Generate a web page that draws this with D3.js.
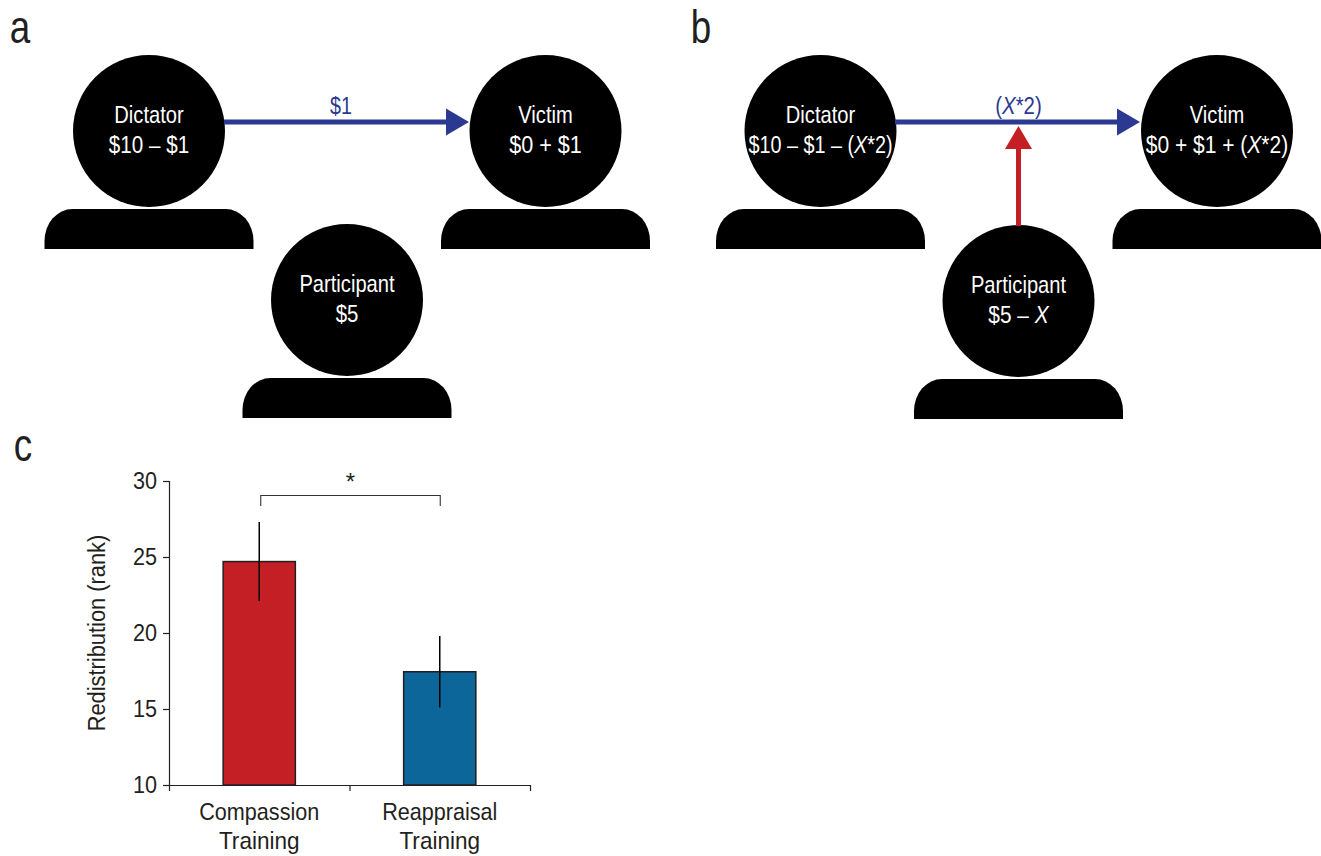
<!DOCTYPE html>
<html>
<head>
<meta charset="utf-8">
<script src="https://cdn.jsdelivr.net/npm/d3@7"></script>
<style>
  body { margin: 0; background: #fff; }
  text { font-family: "Liberation Sans", sans-serif; }
</style>
</head>
<body>
<div id="chart"></div>
<script>
// bar values
const categories = ["Compassion Training", "Reappraisal Training"];
const means = [24.7, 17.45];
const errLow = [22.1, 15.1];
const errHigh = [27.3, 19.8];
const yTicks = [10, 15, 20, 25, 30];
const barColors = ["#c51f26", "#0d6699"];

// text of the two game diagrams, X marks the italic part
const people = ["Dictator", "Victim", "Participant"];
const moneyA = ["$10 – $1", "$0 + $1", "$5"];
const moneyB = ["$10 – $1 – (X*2)", "$0 + $1 + (X*2)", "$5 – X"];

const blue = "#2b3990";
const red = "#c51f26";
const ink = "#231f20";

const svg = d3.select("#chart").append("svg")
    .attr("width", 1321)
    .attr("height", 856);

// no condensed face installed, so labels get squeezed horizontally
function squeezed(g, px, py, k, size, color) {
    return g.append("text")
        .attr("transform", `translate(${px},${py}) scale(${k},1)`)
        .attr("text-anchor", "middle")
        .attr("font-size", size)
        .attr("fill", color);
}

// panel letters
[["a", 20, 43], ["b", 701, 43], ["c", 23, 461]].forEach(function(d) {
    squeezed(svg, d[1], d[2], 0.8, 46, ink).text(d[0]);
});

// head and shoulders
const headR = 76;
const bodyW = 209, bodyH = 40;

function drawPerson(g, cx, cy, name, money, kMoney) {
    g.append("circle")
        .attr("cx", cx)
        .attr("cy", cy)
        .attr("r", headR)
        .attr("fill", "#000");

    let x0 = cx - bodyW / 2, x1 = cx + bodyW / 2, top = cy + headR + 2, bot = top + bodyH;
    g.append("path")
        .attr("d", `M${x0},${bot}V${top + 32}A28,32 0 0 1 ${x0 + 28},${top}H${x1 - 28}A28,32 0 0 1 ${x1},${top + 32}V${bot}Z`)
        .attr("fill", "#000");

    squeezed(g, cx, cy - 8, 0.84, 24, "#fff").text(name);
    addMoney(squeezed(g, cx, cy + 22, kMoney, 24, "#fff"), money);
}

// splits a label so the X comes out in italics
function addMoney(sel, str) {
    str.split(/(X)/).forEach(function(part) {
        if (part === "") return;
        sel.append("tspan")
            .attr("font-style", part === "X" ? "italic" : "normal")
            .text(part);
    });
}

function drawArrow(g, x1, y1, x2, y2, color) {
    // shaft stops at the base of the head
    let len = Math.hypot(x2 - x1, y2 - y1);
    let ux = (x2 - x1) / len, uy = (y2 - y1) / len;
    let bx = x2 - ux * 23, by = y2 - uy * 23;
    g.append("line")
        .attr("x1", x1).attr("y1", y1)
        .attr("x2", bx).attr("y2", by)
        .attr("stroke", color)
        .attr("stroke-width", 5);
    g.append("path")
        .attr("d", `M${x2},${y2}L${bx - uy * 13.5},${by + ux * 13.5}L${bx + uy * 13.5},${by - ux * 13.5}Z`)
        .attr("fill", color);
}

// panel a
const gA = svg.append("g");
const xA = d3.scaleOrdinal().domain(people).range([149, 545.5, 347]);
const yA = d3.scaleOrdinal().domain(people).range([131, 131, 300]);
const kA = [0.86, 0.9, 0.85];
people.forEach((p, i) => drawPerson(gA, xA(p), yA(p), p, moneyA[i], kA[i]));
drawArrow(gA, 224, 122, 469, 122, blue);
squeezed(gA, 341, 114, 0.82, 24, blue).text("$1");

// panel b
const gB = svg.append("g");
const xB = d3.scaleOrdinal().domain(people).range([820.5, 1217, 1018.5]);
const yB = d3.scaleOrdinal().domain(people).range([131, 131, 301]);
const kB = [0.825, 0.875, 0.87];
people.forEach((p, i) => drawPerson(gB, xB(p), yB(p), p, moneyB[i], kB[i]));
drawArrow(gB, 895, 122, 1140, 122, blue);
drawArrow(gB, 1018.5, 226, 1018.5, 126, red);
addMoney(squeezed(gB, 1018.5, 114, 0.85, 24, blue), "(X*2)");

// panel c
const x = d3.scaleBand().domain(categories).range([169, 530]);
const xEdges = d3.scaleLinear().domain([0, 2]).range([169, 530]);
const y = d3.scaleLinear().domain([10, 30]).range([785, 481]);
const barW = x.bandwidth() * 0.4;
const gC = svg.append("g");

gC.selectAll(".bar")
    .data(categories)
    .join("rect")
    .attr("class", "bar")
    .attr("x", d => x(d) + x.bandwidth() / 2 - barW / 2)
    .attr("y", (d, i) => y(means[i]))
    .attr("width", barW)
    .attr("height", (d, i) => y(10) - y(means[i]))
    .attr("fill", (d, i) => barColors[i])
    .attr("stroke", ink)
    .attr("stroke-width", 1.5);

gC.selectAll(".err")
    .data(categories)
    .join("line")
    .attr("class", "err")
    .attr("x1", d => x(d) + x.bandwidth() / 2)
    .attr("x2", d => x(d) + x.bandwidth() / 2)
    .attr("y1", (d, i) => y(errHigh[i]))
    .attr("y2", (d, i) => y(errLow[i]))
    .attr("stroke", "#000")
    .attr("stroke-width", 1.5);

let yAxis = gC.append("g")
    .attr("transform", "translate(169,0)")
    .call(d3.axisLeft(y).tickValues(yTicks).tickSize(6).tickPadding(5));
yAxis.selectAll("text")
    .attr("x", 0)
    .attr("transform", "translate(-12,0) scale(0.9,1)")
    .attr("font-size", 24)
    .attr("fill", ink)
    .style("font-family", "inherit");
yAxis.selectAll("line,path").attr("stroke", ink).attr("stroke-width", 1.2);

// ticks sit between the bars, so they come from the edge scale
let xAxis = gC.append("g")
    .attr("transform", "translate(0,785)")
    .call(d3.axisBottom(xEdges).tickValues([0, 1, 2]).tickSize(6).tickSizeOuter(0).tickFormat(""));
xAxis.selectAll("line,path").attr("stroke", ink).attr("stroke-width", 1.2);

categories.forEach(function(d) {
    let cx = x(d) + x.bandwidth() / 2;
    d.split(" ").forEach(function(w, i) {
        squeezed(gC, cx, 820 + i * 29, i === 0 ? 0.9 : 0.94, 24, ink).text(w);
    });
});

gC.append("text")
    .attr("transform", "translate(105,633) rotate(-90) scale(0.91,1)")
    .attr("text-anchor", "middle")
    .attr("font-size", 24)
    .attr("fill", ink)
    .text("Redistribution (rank)");

// significance bracket
let xLeft = x(categories[0]) + x.bandwidth() / 2 + 1.5;
let xRight = x(categories[1]) + x.bandwidth() / 2 + 0.5;
gC.append("path")
    .attr("d", `M${xLeft},${y(28.35)}V${y(29.05)}H${xRight}V${y(28.35)}`)
    .attr("fill", "none")
    .attr("stroke", "#333")
    .attr("stroke-width", 1.1);
squeezed(gC, (xLeft + xRight) / 2, 490, 1, 24, ink).text("*");
</script>
</body>
</html>
